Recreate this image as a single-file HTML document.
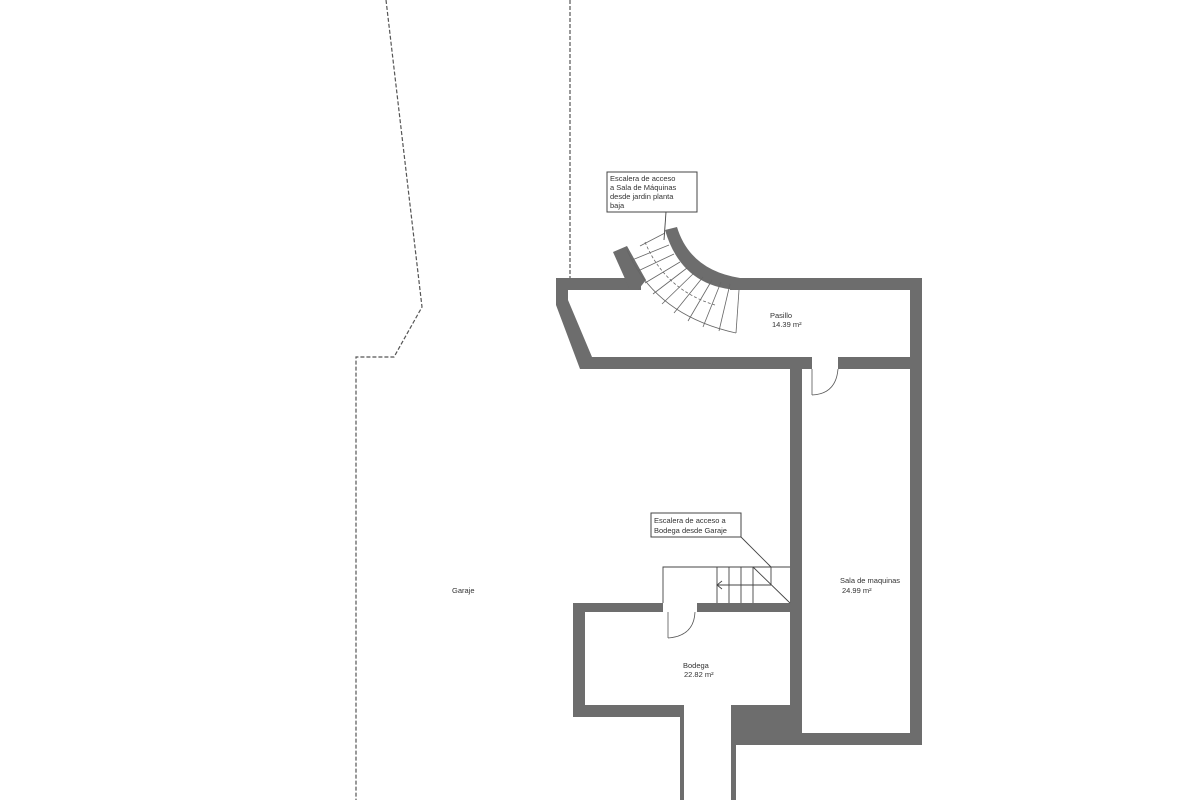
<!DOCTYPE html>
<html><head><meta charset="utf-8"><style>
html,body{margin:0;padding:0;background:#fff}
svg{display:block}
text{font-family:"Liberation Sans",sans-serif;fill:#333}
</style></head><body>
<svg width="1200" height="800" viewBox="0 0 1200 800" xmlns="http://www.w3.org/2000/svg">
<g fill="none" stroke="#555" stroke-width="1.2" stroke-dasharray="4,2">
<polyline points="386,0 422,307 394,357 356,357 356,800"/>
<line x1="570" y1="0" x2="570" y2="278"/>
</g>
<g fill="#6d6d6d" stroke="none">
<polygon points="556,278 641,278 641,290 568,290 568,300 592,357 790,357 790,369 580,369 556,305"/>
<rect x="730" y="278" width="192" height="12"/>
<rect x="910" y="278" width="12" height="467"/>
<rect x="790" y="357" width="22" height="12"/>
<rect x="838" y="357" width="84" height="12"/>
<rect x="790" y="357" width="12" height="388"/>
<rect x="735" y="733" width="187" height="12"/>
<path d="M665,230 L677,227 Q690,270 740,278 L740,290 Q682,288 665,230 Z"/>
<polygon points="613,252 627,246 646,280 638,290 630,290"/>
<rect x="573" y="603" width="90" height="9"/>
<rect x="697" y="603" width="93" height="9"/>
<rect x="573" y="603" width="12" height="114"/>
<rect x="573" y="705" width="111" height="12"/>
<rect x="680" y="705" width="4" height="95"/>
<rect x="731" y="705" width="59" height="40"/>
<rect x="731" y="705" width="5" height="95"/>
</g>
<g fill="none" stroke="#666" stroke-width="0.8">
<path d="M627,250 Q655,315 736,333"/>
<path d="M645,242 Q665,290 715,305" stroke-dasharray="3,2"/>
<line x1="640" y1="246" x2="665" y2="233"/>
<line x1="632" y1="260" x2="669" y2="245"/>
<line x1="638" y1="271" x2="674" y2="254"/>
<line x1="645" y1="283" x2="680" y2="262"/>
<line x1="653" y1="294" x2="687" y2="268"/>
<line x1="662" y1="304" x2="694" y2="273"/>
<line x1="674" y1="313" x2="703" y2="277"/>
<line x1="688" y1="321" x2="712" y2="280"/>
<line x1="703" y1="327" x2="721" y2="282"/>
<line x1="719" y1="331" x2="730" y2="284"/>
<line x1="736" y1="333" x2="739" y2="290"/>
</g>
<g fill="none" stroke="#555" stroke-width="0.8">
<line x1="812" y1="369" x2="812" y2="395"/>
<path d="M812,395 Q836,394 838,369"/>
<line x1="668" y1="612" x2="668" y2="638"/>
<path d="M668,638 Q694,636 695,612"/>
</g>
<g fill="none" stroke="#444" stroke-width="0.9">
<polyline points="663,603 663,567 790,567"/>
<line x1="717" y1="567" x2="717" y2="603"/>
<line x1="729" y1="567" x2="729" y2="603"/>
<line x1="741" y1="567" x2="741" y2="603"/>
<line x1="753" y1="567" x2="753" y2="603"/>
<line x1="753" y1="585" x2="771" y2="585"/>
<line x1="771" y1="567" x2="771" y2="585"/>
<line x1="717" y1="585" x2="753" y2="585"/>
<polyline points="722,581 717,585 722,589"/>
<line x1="753" y1="567" x2="790" y2="603"/>
<line x1="741" y1="537" x2="771" y2="567"/>
<line x1="666" y1="212" x2="664" y2="240"/>
</g>
<rect x="607" y="172" width="90" height="40" fill="#fff" stroke="#444" stroke-width="1"/>
<text font-size="7.5"><tspan x="610" y="181">Escalera de acceso</tspan><tspan x="610" y="190">a Sala de Máquinas</tspan><tspan x="610" y="199">desde jardin planta</tspan><tspan x="610" y="208">baja</tspan></text>
<rect x="651" y="513" width="90" height="24" fill="#fff" stroke="#444" stroke-width="1"/>
<text font-size="7.5"><tspan x="654" y="523">Escalera de acceso a</tspan><tspan x="654" y="533">Bodega desde Garaje</tspan></text>
<text font-size="7.5"><tspan x="452" y="593">Garaje</tspan></text>
<text font-size="7.5"><tspan x="770" y="318">Pasillo</tspan><tspan x="772" y="327">14.39 m²</tspan></text>
<text font-size="7.5"><tspan x="840" y="583">Sala de maquinas</tspan><tspan x="842" y="593">24.99 m²</tspan></text>
<text font-size="7.5"><tspan x="683" y="668">Bodega</tspan><tspan x="684" y="677">22.82 m²</tspan></text>
</svg>
</body></html>
